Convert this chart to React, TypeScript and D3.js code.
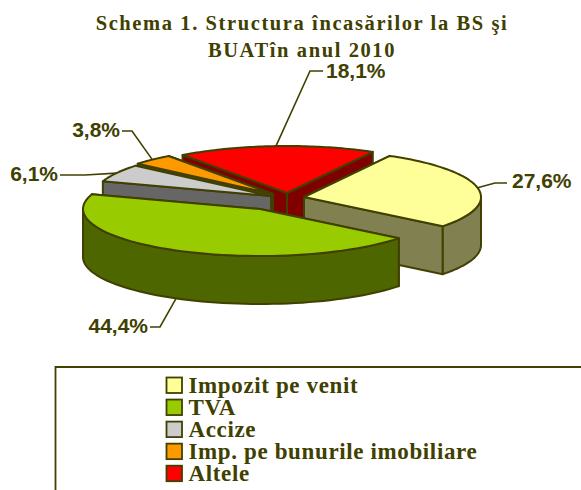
import React from 'react';
import * as d3 from 'd3';

const categories = ['Impozit pe venit', 'TVA', 'Accize', 'Imp. pe bunurile imobiliare', 'Altele'];
const values = [27.6, 44.4, 6.1, 3.8, 18.1];
const valueLabels = ['27,6%', '44,4%', '6,1%', '3,8%', '18,1%'];
const topColors = ['#FFFF99', '#99CC00', '#CCCCCC', '#FF9900', '#FF0000'];
const wallColors = ['#808050', '#4D6600', '#666666', '#804D00', '#800000'];
const titleLines = ['Schema 1. Structura încasărilor la BS şi', 'BUATîn anul 2010'];

const ink = '#404000';
const width = 581;
const height = 490;
const rx = 177;
const ry = 47;
const depth = 48;
const startDeg = 29;

// where each exploded slice has its tip
const sliceTips: [number, number][] = [[304, 197], [260, 209], [271, 196], [273, 194], [287, 193]];
// draw back to front
const paintOrder = [4, 3, 2, 0, 1];
// label anchor and the elbow of its leader line
const labelPos: { x: number; y: number; anchor: string; elbow: [number, number]; end: [number, number] }[] = [
  { x: 512, y: 188, anchor: 'start', elbow: [495, 183], end: [507, 183] },
  { x: 148, y: 333, anchor: 'end', elbow: [160, 327], end: [150, 327] },
  { x: 58, y: 181, anchor: 'end', elbow: [85, 175], end: [60, 175] },
  { x: 120, y: 137, anchor: 'end', elbow: [132, 131], end: [122, 131] },
  { x: 326, y: 78, anchor: 'start', elbow: [310, 71], end: [323, 71] },
];

const pie = d3.pie<number>()
  .sort(null)
  .startAngle((startDeg * Math.PI) / 180)
  .endAngle((startDeg * Math.PI) / 180 + 2 * Math.PI);
const arcs = pie(values);
const line = d3.line();

const rimPoint = (i: number, a: number, drop = 0): [number, number] => [
  sliceTips[i][0] + rx * Math.sin(a),
  sliceTips[i][1] - ry * Math.cos(a) + drop,
];

const rim = (i: number, a0: number, a1: number, drop = 0) =>
  d3.range(0, 61).map(k => rimPoint(i, a0 + ((a1 - a0) * k) / 60, drop));

const closed = (pts: [number, number][]) => line(pts) + 'Z';

const radialWall = (i: number, a: number) => {
  const [tx, ty] = sliceTips[i];
  return closed([[tx, ty], rimPoint(i, a), rimPoint(i, a, depth), [tx, ty + depth]]);
};

const outerWall = (i: number, a0: number, a1: number) => {
  const from = Math.max(a0, Math.PI / 2);
  const to = Math.min(a1, (3 * Math.PI) / 2);
  if (to <= from) return null;
  return closed([...rim(i, from, to), ...rim(i, from, to, depth).reverse()]);
};

const App = () => {
  const legendY = d3.scalePoint<string>().domain(categories).range([385.3, 473.5]);

  return (
    <svg width={width} height={height} style={{ position: 'absolute', left: 0, top: 0, background: '#fff' }}>
      {titleLines.map((t, i) => (
        <text key={t} x={302} y={29.5 + i * 27} textAnchor="middle" fill={ink}
          style={{ font: 'bold 20.5px "Liberation Serif"', letterSpacing: '1.6px' }}>{t}</text>
      ))}

      {paintOrder.map(i => {
        const { startAngle: a0, endAngle: a1 } = arcs[i];
        const outer = outerWall(i, a0, a1);
        const [tx, ty] = sliceTips[i];
        // the wall lower on the page faces the viewer, so it goes on top
        const walls = [a0, a1].sort((a, b) => rimPoint(i, a)[1] - rimPoint(i, b)[1]);
        return (
          <g key={categories[i]} stroke={ink} strokeWidth={2} strokeLinejoin="round">
            {walls.map(a => <path key={a} d={radialWall(i, a)} fill={wallColors[i]} />)}
            {outer && <path d={outer} fill={wallColors[i]} />}
            <path d={closed([[tx, ty], ...rim(i, a0, a1)])} fill={topColors[i]} />
          </g>
        );
      })}

      {labelPos.map((l, i) => {
        const mid = (arcs[i].startAngle + arcs[i].endAngle) / 2;
        return (
          <g key={valueLabels[i]}>
            <path d={line([rimPoint(i, mid, i === 1 ? depth : 0), l.elbow, l.end]) as string}
              fill="none" stroke={ink} strokeWidth={1.6} />
            <text x={l.x} y={l.y} textAnchor={l.anchor} fill={ink}
              style={{ font: 'bold 21px "Liberation Sans"' }}>{valueLabels[i]}</text>
          </g>
        );
      })}

      <path d={line([[55.5, height], [55.5, 367], [width, 367]]) as string} fill="none" stroke={ink} strokeWidth={1.8} />
      {categories.map((c, i) => {
        const y = legendY(c) as number;
        return (
          <g key={c}>
            <rect x={166.5} y={y - 7.8} width={15.5} height={15.5} fill={topColors[i]} stroke={ink} strokeWidth={1.8} />
            <text x={188.5} y={y + 7.7} fill={ink}
              style={{ font: 'bold 23px "Liberation Serif"', letterSpacing: '0.63px' }}>{c}</text>
          </g>
        );
      })}
    </svg>
  );
};

export default App;
